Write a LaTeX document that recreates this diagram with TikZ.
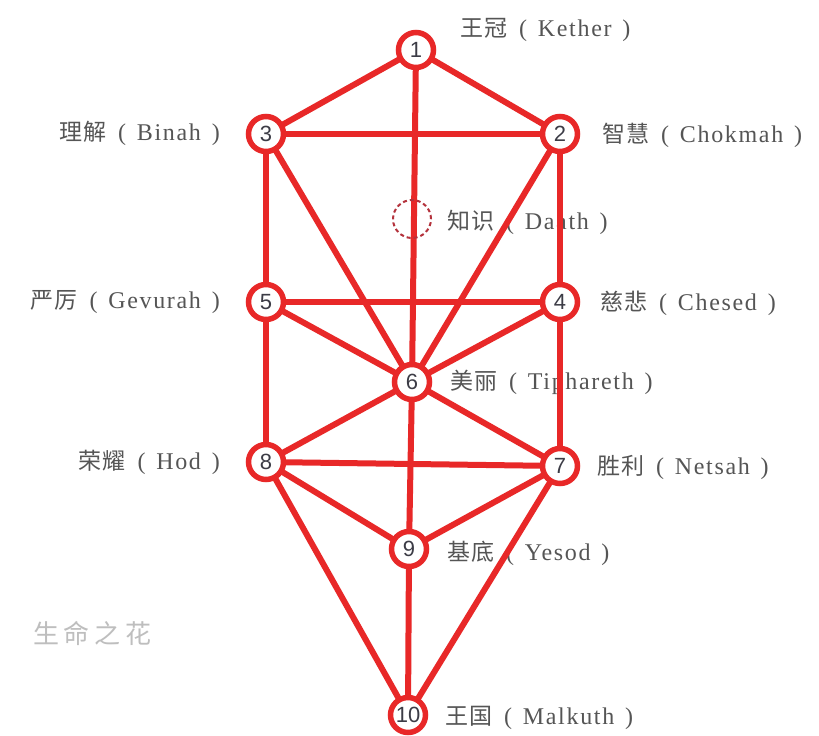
\documentclass[tikz,border=0pt]{standalone}
\usepackage{fontspec}
\setmainfont{Liberation Serif}[LetterSpace=7]
\setsansfont{Liberation Sans}
\newfontfamily\cjk{Noto Sans CJK SC}[LetterSpace=4]
\newfontfamily\cjkwide{Noto Sans CJK SC}[LetterSpace=18]
\newcommand\sefname[2]{{\cjk\fontsize{23}{26}\selectfont #1}\hspace{0.5em}(\hspace{0.45em}#2\hspace{0.45em})}
\begin{document}
\begin{tikzpicture}[x=1pt,y=-1pt]
\definecolor{tred}{RGB}{232,40,40}
\definecolor{dred}{RGB}{180,50,60}
\definecolor{labgray}{RGB}{85,85,85}
\definecolor{numgray}{RGB}{60,60,70}
\definecolor{faint}{RGB}{190,190,190}
\tikzset{
  path/.style={draw=tred, line width=6pt},
  sefira/.style={circle, draw=tred, line width=5.5pt, fill=white, minimum size=35pt, inner sep=0pt,
    text=numgray, font=\sffamily\fontsize{22}{22}\selectfont},
  hidden/.style={circle, draw=dred, line width=2pt, dash pattern=on 4pt off 3pt, minimum size=38pt, inner sep=0pt},
  lab/.style={text=labgray, font=\fontsize{24}{26}\selectfont, inner sep=0pt}
}
\fill[white] (0,0) rectangle (819,736);
\useasboundingbox (0,0) rectangle (819,736);
\coordinate (c1) at (416,50);
\coordinate (c2) at (560,134);
\coordinate (c3) at (266,134);
\coordinate (c4) at (560,302);
\coordinate (c5) at (266,302);
\coordinate (c6) at (412,382);
\coordinate (c7) at (560,466);
\coordinate (c8) at (266,462);
\coordinate (c9) at (409,549);
\coordinate (c10) at (408,715);
\node[lab, anchor=west] (l1) at (460,30) {\sefname{王冠}{Kether}};
\node[lab, anchor=east] (l3) at (220,133) {\sefname{理解}{Binah}};
\node[lab, anchor=west] (l2) at (602,135) {\sefname{智慧}{Chokmah}};
\node[lab, anchor=west] (ld) at (447,222) {\sefname{知识}{Daath}};
\node[lab, anchor=east] (l5) at (220,302) {\sefname{严厉}{Gevurah}};
\node[lab, anchor=west] (l4) at (600,303) {\sefname{慈悲}{Chesed}};
\node[lab, anchor=west] (l6) at (450,382) {\sefname{美丽}{Tiphareth}};
\node[lab, anchor=east] (l8) at (220,462) {\sefname{荣耀}{Hod}};
\node[lab, anchor=west] (l7) at (597,467) {\sefname{胜利}{Netsah}};
\node[lab, anchor=west] (l9) at (447,553) {\sefname{基底}{Yesod}};
\node[lab, anchor=west] (l10) at (445,718) {\sefname{王国}{Malkuth}};
\node[text=faint, font=\cjkwide\fontsize{26}{28}\selectfont, anchor=west, inner sep=0pt] (title) at (33,633) {生命之花};
\foreach \a/\b in {1/3,1/2,1/6,3/2,3/5,3/6,2/6,2/4,5/4,5/6,4/6,5/8,4/7,6/8,6/7,6/9,8/7,8/9,7/9,8/10,9/10,7/10}
  \draw[path] (c\a) -- (c\b);
\node[hidden] (d) at (412,219) {};
\node[sefira] (n1) at (c1) {1};
\node[sefira] (n2) at (c2) {2};
\node[sefira] (n3) at (c3) {3};
\node[sefira] (n4) at (c4) {4};
\node[sefira] (n5) at (c5) {5};
\node[sefira] (n6) at (c6) {6};
\node[sefira] (n7) at (c7) {7};
\node[sefira] (n8) at (c8) {8};
\node[sefira] (n9) at (c9) {9};
\node[sefira] (n10) at (c10) {10};
\end{tikzpicture}
\end{document}
